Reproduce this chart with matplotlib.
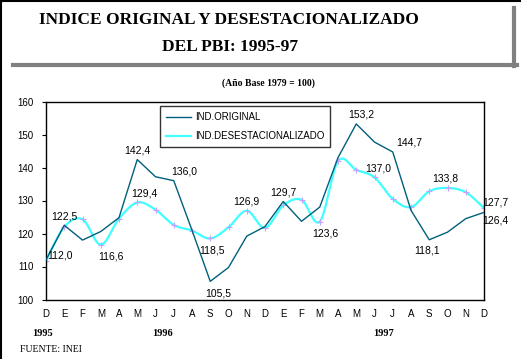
import matplotlib.pyplot as plt
import numpy as np
from matplotlib.lines import Line2D

months = ['D', 'E', 'F', 'M', 'A', 'M', 'J', 'J', 'A', 'S', 'O', 'N',
          'D', 'E', 'F', 'M', 'A', 'M', 'J', 'J', 'A', 'S', 'O', 'N', 'D']
original = [112.0, 122.5, 118.0, 120.6, 124.8, 142.4, 137.2, 136.0, 121.0, 105.5, 109.7, 119.2,
            122.1, 129.7, 123.7, 128.0, 143.0, 153.2, 147.7, 144.7, 127.0, 118.1, 120.4, 124.5, 126.4]
desest = [111.8, 122.0, 124.3, 116.6, 124.5, 129.4, 127.2, 122.6, 120.9, 118.5, 121.9, 126.9,
          121.7, 128.5, 130.2, 123.6, 141.9, 139.3, 137.0, 130.5, 128.0, 132.8, 133.8, 132.5, 127.7]
years = ['1995', '1996', '1997']
year_pos = [-0.2, 6.4, 18.5]

# labelled points: (index, dx, dy in pixels, ha)
orig_labels = [(0, 1, 4, 'left'), (1, 0, 9, 'center'), (5, 0, 9, 'center'), (7, 10, 9, 'center'),
               (9, 8, -12, 'center'), (13, 0, 9, 'center'), (17, 5, 9, 'center'),
               (19, 3, 9, 'left'), (21, -2, -11, 'center'), (24, -2, -8, 'left')]
des_labels = [(3, 10, -12, 'center'), (5, 7, 9, 'center'), (9, 2, -12, 'center'),
              (11, 0, 9, 'center'), (15, 6, -12, 'center'), (18, 4, 9, 'center'),
              (22, -2, 9, 'center'), (24, -2, 6, 'left')]


def smooth(y, steps=12):
    # Catmull-Rom style smoothing like the spreadsheet "smoothed line"
    y = np.asarray(y, float)
    x = np.arange(len(y), dtype=float)
    p = np.concatenate([[y[0]], y, [y[-1]]])
    px = np.concatenate([[x[0]], x, [x[-1]]])
    xs, ys = [], []
    t = np.linspace(0, 1, steps, endpoint=False)
    for i in range(1, len(y)):
        for arr, out in ((px, xs), (p, ys)):
            p0, p1, p2, p3 = arr[i - 1], arr[i], arr[i + 1], arr[i + 2]
            out.extend(0.5 * ((2 * p1) + (-p0 + p2) * t + (2 * p0 - 5 * p1 + 4 * p2 - p3) * t ** 2
                              + (-p0 + 3 * p1 - 3 * p2 + p3) * t ** 3))
    xs.append(x[-1])
    ys.append(y[-1])
    return xs, ys


sans = 'Liberation Sans'
serif = 'Liberation Serif'

fig = plt.figure(figsize=(5.21, 3.59), dpi=100)
ax = fig.add_axes([46 / 521, 1 - 299.5 / 359, 438 / 521, 198 / 359])

x = np.arange(len(months))
ax.plot(x, original, color='#00607a', lw=1, label='IND.ORIGINAL', zorder=3)
sx, sy = smooth(desest)
ax.plot(sx, sy, color='#40ffff', lw=1.6, zorder=2, label='IND.DESESTACIONALIZADO')
ax.plot(x, desest, ls='none', marker='+', ms=4, mew=0.8, color='#c8a0ff', zorder=2.5)

for i, dx, dy, ha in orig_labels:
    ax.annotate(f'{original[i]:.1f}'.replace('.', ','), (x[i], original[i]),
                xytext=(dx, dy), textcoords='offset pixels', ha=ha, va='center',
                fontsize=7.5, family=sans)
for i, dx, dy, ha in des_labels:
    ax.annotate(f'{desest[i]:.1f}'.replace('.', ','), (x[i], desest[i]),
                xytext=(dx, dy), textcoords='offset pixels', ha=ha, va='center',
                fontsize=7.5, family=sans)

ax.set_xlim(0, 24)
ax.set_ylim(100, 160)
ax.set_yticks(range(100, 161, 10))
ax.set_xticks(x)
ax.set_xticklabels(months)
ax.tick_params(axis='x', length=0, pad=7, labelsize=7)
ax.tick_params(axis='y', length=3, width=0.8, pad=6, labelsize=7)
for lab in ax.get_xticklabels() + ax.get_yticklabels():
    lab.set_family(sans)
for s in ax.spines.values():
    s.set_linewidth(1)

leg = ax.legend(loc='upper left', bbox_to_anchor=(114 / 438, 1 - 5 / 198), frameon=True,
                fancybox=False, edgecolor='black', prop={'family': sans, 'size': 7},
                handlelength=2.6, borderpad=0.6, labelspacing=0.9, handletextpad=0.4,
                borderaxespad=0)
leg.get_frame().set_linewidth(1)

for yr, xp in zip(years, year_pos):
    ax.text(xp, -0.172, yr, transform=ax.get_xaxis_transform(), ha='center', va='center',
            fontsize=7.5, fontweight='bold', family=serif)

fig.text(20 / 521, 1 - 350 / 359, 'FUENTE: INEI', ha='left', va='center', fontsize=7, family=serif)
fig.text(229 / 521, 1 - 20 / 359, 'INDICE ORIGINAL Y DESESTACIONALIZADO', ha='center', va='center',
         fontsize=12.5, fontweight='bold', family=serif)
fig.text(230 / 521, 1 - 47 / 359, 'DEL PBI: 1995-97', ha='center', va='center',
         fontsize=12.5, fontweight='bold', family=serif)
fig.text(268 / 521, 1 - 83 / 359, '(Año Base 1979 = 100)', ha='center', va='center',
         fontsize=7, fontweight='bold', family=serif)

# title shadow and frame edges
fig.add_artist(Line2D([13 / 521, 517 / 521], [1 - 65 / 359] * 2, color='#808080', lw=3,
                      transform=fig.transFigure))
fig.add_artist(Line2D([514 / 521] * 2, [1 - 8 / 359, 1 - 66 / 359], color='#808080', lw=3,
                      transform=fig.transFigure))
fig.add_artist(Line2D([1 / 521] * 2, [0, 1], color='black', lw=1.5, transform=fig.transFigure))
fig.add_artist(Line2D([0, 1], [1 - 1 / 359] * 2, color='black', lw=1.5, transform=fig.transFigure))

fig.savefig('out.png', dpi=100)
